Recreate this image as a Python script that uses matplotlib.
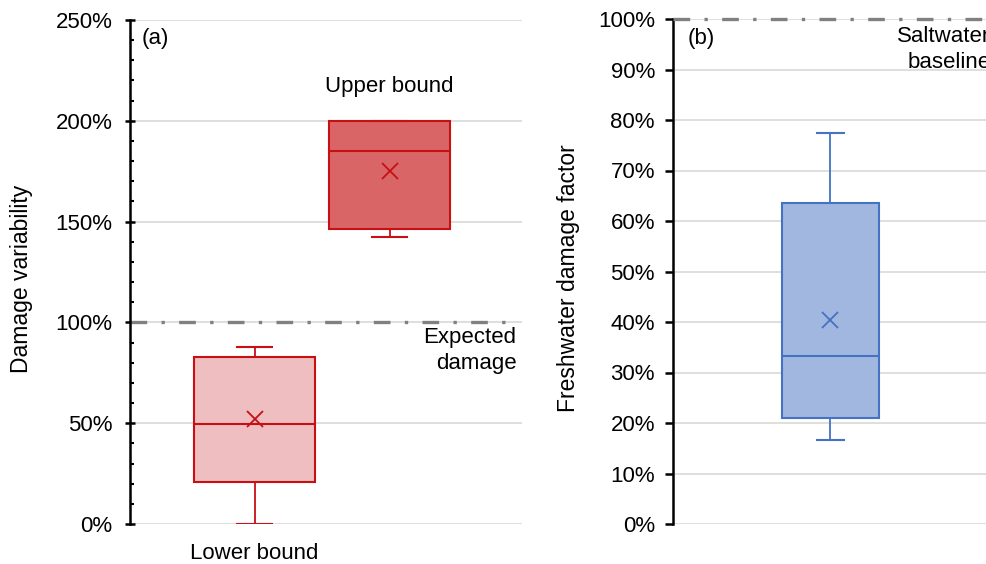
import numpy as np
import matplotlib
matplotlib.use('Agg')
import matplotlib.pyplot as plt
from matplotlib.ticker import MultipleLocator, FuncFormatter

plt.rcParams['font.family'] = ['Liberation Sans', 'DejaVu Sans']

# Panel (a): damage variability, in percent
a_labels = ['Lower bound', 'Upper bound']
a_whislo = [0.0, 142.5]
a_q1 = [20.8, 146.2]
a_med = [49.8, 185.0]
a_q3 = [82.8, 200.0]
a_whishi = [88.0, 200.0]
a_mean = [52.0, 175.0]

# Panel (b): freshwater damage factor, in percent
b_whislo = [16.7]
b_q1 = [21.0]
b_med = [33.3]
b_q3 = [63.6]
b_whishi = [77.5]
b_mean = [40.3]

red = '#C80F14'
blue = '#4472C4'
grid_c = '#D9D9D9'
fs = 16


def stats(lo, q1, med, q3, hi, mean, names):
    out = []
    for i in range(len(lo)):
        out.append({'label': names[i], 'whislo': lo[i], 'q1': q1[i],
                    'med': med[i], 'q3': q3[i], 'whishi': hi[i],
                    'mean': mean[i], 'fliers': []})
    return out


def draw_box(ax, st, pos, width, face, edge, capw):
    k = {
        'positions': [pos], 'widths': width, 'patch_artist': True,
        'showmeans': True, 'showfliers': False, 'capwidths': capw,
        'boxprops': {'facecolor': face, 'edgecolor': edge, 'linewidth': 1.5},
        'medianprops': {'color': edge, 'linewidth': 1.5},
        'whiskerprops': {'color': edge, 'linewidth': 1.3},
        'capprops': {'color': edge, 'linewidth': 1.5},
        'meanprops': {'marker': 'x', 'markeredgecolor': edge,
                      'markersize': 11.5, 'markeredgewidth': 1.3},
        'manage_ticks': False,
    }
    ax.bxp([st], **k)


def pct(v, p):
    return '{0:.0f}%'.format(v)


fig = plt.figure(figsize=(9.87, 5.64), dpi=100)
ax1 = fig.add_axes([130 / 987, 40 / 564, 392 / 987, 504 / 564])
ax2 = fig.add_axes([673 / 987, 40 / 564, 330 / 987, 505 / 564])

# Panel (a)
sa = stats(a_whislo, a_q1, a_med, a_q3, a_whishi, a_mean, a_labels)
ax1.set_xlim(0, 1)
ax1.set_ylim(0, 250)
draw_box(ax1, sa[0], 0.318, 0.309, '#EEBEC0', red, 0.089)
draw_box(ax1, sa[1], 0.662, 0.311, '#D96566', red, 0.089)
ax1.axhline(100, xmin=0, xmax=0.965, color='#808080', lw=2.4,
            dashes=(5, 4.3, 1, 4.3), zorder=1)
ax1.yaxis.set_major_locator(MultipleLocator(50))
ax1.yaxis.set_minor_locator(MultipleLocator(10))
ax1.yaxis.set_major_formatter(FuncFormatter(pct))
ax1.tick_params(axis='y', which='major', direction='inout', length=7.5,
                width=1.8, pad=9, labelsize=fs)
ax1.tick_params(axis='y', which='minor', direction='in', length=3,
                width=1.5)
ax1.set_ylabel('Damage variability', fontsize=16.5)
ax1.yaxis.set_label_coords(-0.247, 0.486)
ax1.text(0.03, 241, '(a)', fontsize=fs, va='center', ha='left')
ax1.text(0.662, 217, 'Upper bound', fontsize=fs, ha='center', va='center')
ax1.text(0.318, -14.5, 'Lower bound', fontsize=fs, ha='center',
         va='center', clip_on=False)
ax1.text(0.986, 97.5, 'Expected\ndamage', fontsize=fs, ha='right', va='top',
         multialignment='right', linespacing=1.3)

# Panel (b)
sb = stats(b_whislo, b_q1, b_med, b_q3, b_whishi, b_mean, ['Freshwater'])
ax2.set_xlim(0, 1)
ax2.set_ylim(0, 100)
draw_box(ax2, sb[0], 0.477, 0.295, '#A1B7E0', blue, 0.082)
ax2.axhline(100, color='#808080', lw=2.4, dashes=(5, 4.3, 1, 4.3),
            zorder=3, clip_on=False)
ax2.yaxis.set_major_locator(MultipleLocator(10))
ax2.yaxis.set_major_formatter(FuncFormatter(pct))
ax2.tick_params(axis='y', which='major', direction='out', length=6,
                width=1.8, pad=7, labelsize=fs)
ax2.set_ylabel('Freshwater damage factor', fontsize=16.5)
ax2.yaxis.set_label_coords(-0.282, 0.487)
ax2.text(0.045, 96.2, '(b)', fontsize=fs, va='center', ha='left')
ax2.text(0.962, 98.6, 'Saltwater\nbaseline', fontsize=fs, ha='right',
         va='top', multialignment='right', linespacing=1.3)

for ax in (ax1, ax2):
    ax.set_xticks([])
    for s in ('top', 'right', 'bottom'):
        ax.spines[s].set_visible(False)
    ax.spines['left'].set_linewidth(1.8)
    ax.grid(axis='y', which='major', color=grid_c, lw=1.2, zorder=0)
    ax.set_axisbelow(True)

fig.savefig('out.png', dpi=100)
